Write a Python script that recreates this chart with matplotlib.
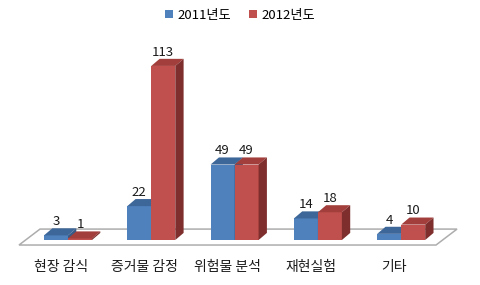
import matplotlib
matplotlib.use("Agg")
import matplotlib.pyplot as plt
from matplotlib.patches import Polygon, Patch
import numpy as np

plt.rcParams['font.family'] = ['Noto Sans CJK KR', 'DejaVu Sans']

categories = ['현장 감식', '증거물 감정', '위험물 분석', '재현실험', '기타']
series_names = ['2011년도', '2012년도']
values_2011 = [3, 22, 49, 14, 4]
values_2012 = [1, 113, 49, 18, 10]

front_colors = ['#4F81BD', '#C0504D']
top_colors = ['#3D6699', '#A23F3C']
side_colors = ['#375A87', '#7E2E2C']

fig = plt.figure(figsize=(4.8, 2.85), dpi=100)
ax = fig.add_axes([0, 0, 1, 1])
ax.set_xlim(-0.816, 4.946)
ax.set_ylim(-29.2, 155.8)
ax.axis('off')

# floor
floor = Polygon([(-0.588, -3.25), (4.418, -3.25), (4.670, 7.1), (-0.336, 7.1)],
                closed=True, facecolor='white', edgecolor='#ADADAD', lw=1.1, zorder=1)
ax.add_patch(floor)

w = 0.288
dx = 0.10
dy = 4.6
x = np.arange(len(categories))

for s, vals in enumerate([values_2011, values_2012]):
    xs = x - w / 2 + s * w
    bars = ax.bar(xs, vals, width=w, color=front_colors[s], zorder=3 + s)
    for xc, v in zip(xs, vals):
        x0, x1 = xc - w / 2, xc + w / 2
        top = Polygon([(x0, v), (x0 + dx, v + dy), (x1 + dx, v + dy), (x1, v)],
                      closed=True, facecolor=top_colors[s], edgecolor='none', zorder=3 + s)
        side = Polygon([(x1, 0), (x1 + dx, dy), (x1 + dx, v + dy), (x1, v)],
                       closed=True, facecolor=side_colors[s], edgecolor='none', zorder=3 + s)
        ax.add_patch(top)
        ax.add_patch(side)
        ax.annotate(str(v), (xc, v), xytext=(0, 9.8), textcoords='offset points',
                    ha='center', va='center', fontsize=9.5, color='#1a1a1a', zorder=10)

for i, c in enumerate(categories):
    ax.text(i - 0.084, -17.5, c, ha='center', va='center', fontsize=10, color='#1a1a1a')

handles = [Patch(facecolor=front_colors[i], label=series_names[i]) for i in range(2)]
ax.legend(handles=handles, loc='center', bbox_to_anchor=(0.5, 0.947), ncol=2,
          frameon=False, fontsize=9.5, handlelength=0.6, handleheight=0.6,
          handletextpad=0.3, columnspacing=1.4)

fig.savefig('out.png', dpi=100)
